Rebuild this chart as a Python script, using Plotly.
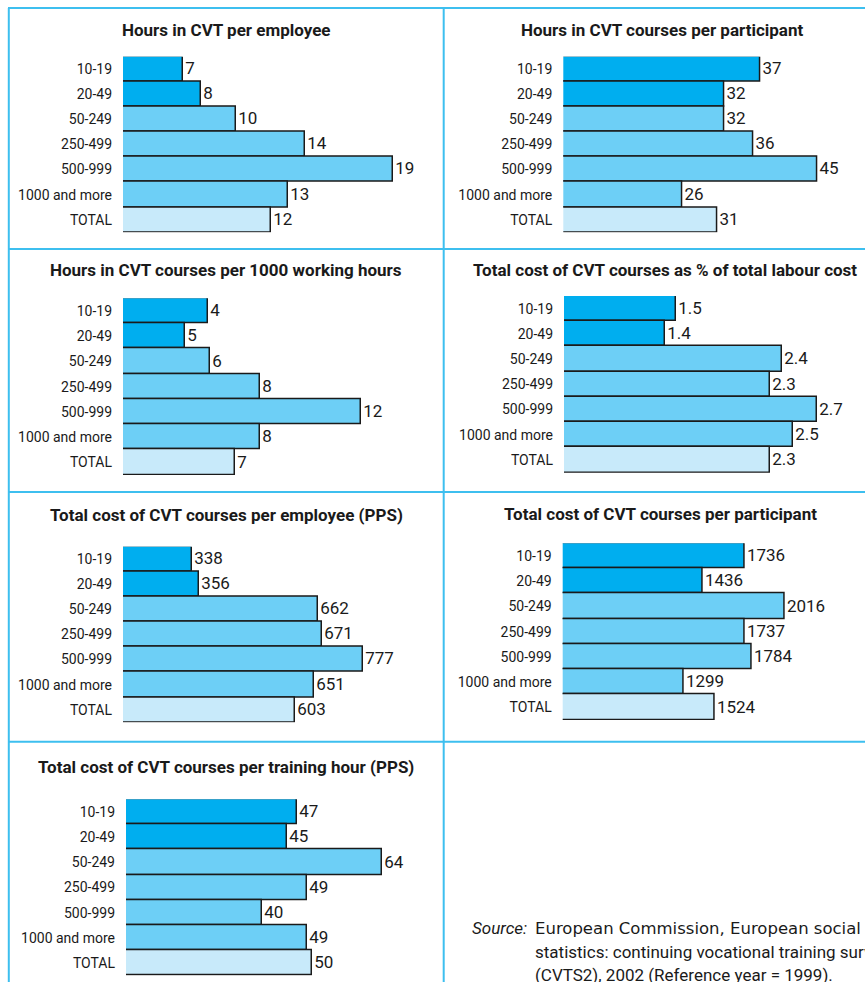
####################################
# CVT BY ENTERPRISE SIZE - PANEL OF BAR CHARTS
####################################
import plotly.graph_objects as go

# ---- data ----
categories = ["10-19", "20-49", "50-249", "250-499", "500-999", "1000 and more", "TOTAL"]

hours_per_employee = [7, 8, 10, 14, 19, 13, 12]
hours_per_participant = [37, 32, 32, 36, 45, 26, 31]
# bar lengths as drawn in the source, and the numbers printed next to them
hours_per_1000_bars = [5.9, 5.0, 6, 8, 12, 8, 7]
hours_per_1000_labels = [4, 5, 6, 8, 12, 8, 7]
cost_pct_labour = [1.5, 1.4, 2.4, 2.3, 2.7, 2.5, 2.3]
cost_per_employee = [338, 356, 662, 671, 777, 651, 603]
cost_per_participant = [1736, 1436, 2016, 1737, 1784, 1299, 1524]
cost_per_hour = [47, 45, 64, 49, 40, 49, 50]

source_lines = [
    "European Commission, European social",
    "statistics: continuing vocational training survey",
    "(CVTS2), 2002 (Reference year = 1999).",
]

# ---- styling ----
DARK = "#00AEEF"
MID = "#6DCFF6"
LIGHT = "#C8EAFA"
bar_colors = [DARK, DARK, MID, MID, MID, MID, LIGHT]
FRAME = "#3DBFEF"
INK = "#1a1a1a"
FONT = "Roboto, sans-serif"

W, H = 865, 982


def px_x(v):
    return v / W


def px_y(v):
    return 1 - v / H


panels = [
    dict(title="Hours in CVT per employee", values=hours_per_employee,
         box=(123, 430, 56.7, 232.3), xr=(3.55, 21.13), tc=(226.7, 30)),
    dict(title="Hours in CVT courses per participant", values=hours_per_participant,
         box=(563.3, 865, 56.7, 232.3), xr=(9.24, 51.8), tc=(661.7, 30)),
    dict(title="Hours in CVT courses per 1000 working hours", values=hours_per_1000_bars,
         labels=hours_per_1000_labels,
         box=(123, 430, 298.3, 475), xr=(2.53, 14.76), tc=(225.8, 270)),
    dict(title="Total cost of CVT courses as % of total labour cost", values=cost_pct_labour,
         box=(564, 865, 296, 472.7), xr=(0.54, 3.113), tc=(665, 270)),
    dict(title="Total cost of CVT courses per employee (PPS)", values=cost_per_employee,
         box=(123, 430, 546.7, 722.3), xr=(160.3, 949.1), tc=(226.7, 515)),
    dict(title="Total cost of CVT courses per participant", values=cost_per_participant,
         box=(562.7, 865, 543.3, 720), xr=(441.9, 2589), tc=(660.8, 514)),
    dict(title="Total cost of CVT courses per training hour (PPS)", values=cost_per_hour,
         box=(126, 430, 799.3, 975.7), xr=(12.65, 73.6), tc=(225.5, 766.7)),
]

fig = go.Figure()
layout = {}
annotations = []

for i, p in enumerate(panels, start=1):
    left, right, top, bottom = p["box"]
    labels = p.get("labels", p["values"])
    fig.add_trace(go.Bar(
        x=p["values"], y=categories, orientation="h",
        xaxis=f"x{i}", yaxis=f"y{i}",
        marker=dict(color=bar_colors, line=dict(color=INK, width=1.5)),
        text=[str(v) for v in labels], textposition="outside",
        textfont=dict(family=FONT, size=17, color=INK),
        constraintext="none", cliponaxis=False, showlegend=False,
        hoverinfo="skip",
    ))
    xk = "xaxis" if i == 1 else f"xaxis{i}"
    yk = "yaxis" if i == 1 else f"yaxis{i}"
    layout[xk] = dict(domain=[px_x(left), min(px_x(right), 1)], range=list(p["xr"]),
                      anchor=f"y{i}", visible=False, fixedrange=True)
    layout[yk] = dict(domain=[px_y(bottom), px_y(top)], anchor=f"x{i}",
                      autorange="reversed", showgrid=False, zeroline=False, showline=False,
                      ticks="", ticklabelstandoff=10,
                      tickfont=dict(family=FONT, size=14, color=INK), fixedrange=True)
    annotations.append(dict(
        text=p["title"], x=px_x(p["tc"][0]), y=px_y(p["tc"][1]),
        xref="paper", yref="paper", xanchor="center", yanchor="middle",
        showarrow=False, font=dict(family=FONT, size=17, color=INK, weight="bold"),
    ))

# source note (first line is set wide, like the justified original)
annotations.append(dict(text="<i>Source:</i>", x=px_x(529), y=px_y(928), xref="paper", yref="paper",
                        xanchor="right", yanchor="middle", showarrow=False,
                        font=dict(family=FONT, size=17, color=INK)))
for k, (line, yy) in enumerate(zip(source_lines, [928, 952, 975])):
    fam = "DejaVu Sans, sans-serif" if k == 0 else FONT
    size = 16.5 if k == 0 else 17
    annotations.append(dict(text=line, x=px_x(533), y=px_y(yy), xref="paper", yref="paper",
                            xanchor="left", yanchor="middle", showarrow=False,
                            font=dict(family=fam, size=size, color=INK)))

# panel frame
shapes = []
def frame_line(x0, y0, x1, y1):
    shapes.append(dict(type="line", xref="paper", yref="paper",
                       x0=px_x(x0), y0=px_y(y0), x1=px_x(x1), y1=px_y(y1),
                       line=dict(color=FRAME, width=2)))

frame_line(8.8, 8, 8.8, 982)
frame_line(443.7, 8, 443.7, 982)
for yy in [8, 249, 492, 741.7]:
    frame_line(8, yy, 865, yy)

fig.update_layout(
    width=W, height=H,
    margin=dict(l=0, r=0, t=0, b=0),
    paper_bgcolor="white", plot_bgcolor="white",
    bargap=0, showlegend=False,
    annotations=annotations, shapes=shapes,
    **layout,
)

fig.write_html("out.html", config={"displayModeBar": False},
               post_script="document.body.style.margin='0px';")
